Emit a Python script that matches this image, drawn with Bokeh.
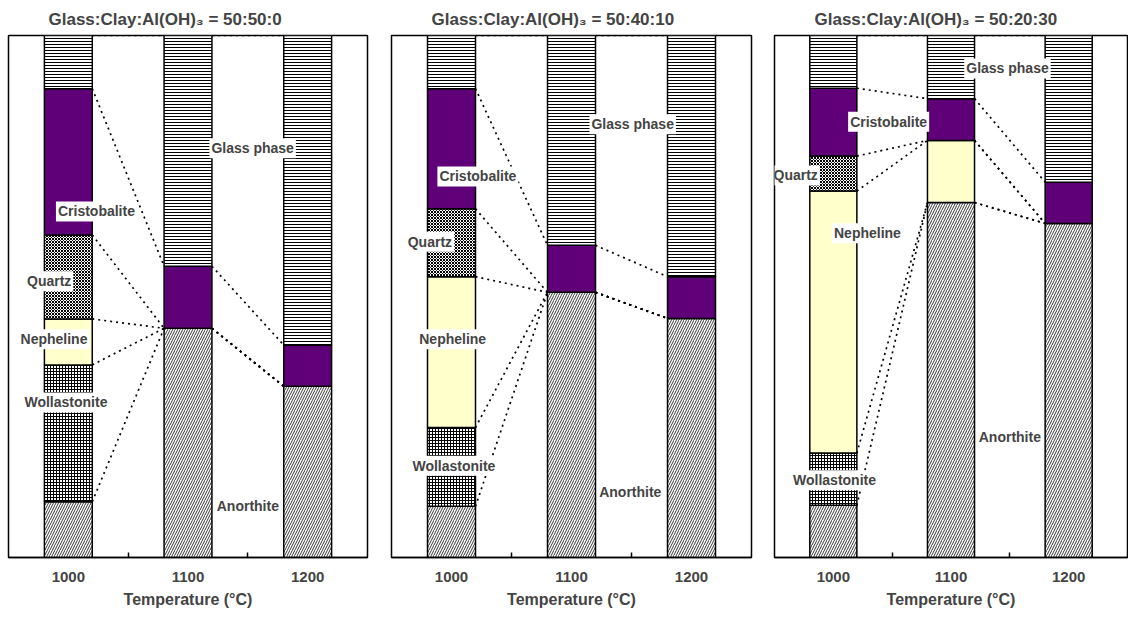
from bokeh.plotting import figure
from bokeh.models import Range1d, FixedTicker, Label
from bokeh.layouts import row
from bokeh.embed import file_html
from bokeh.resources import INLINE
import numpy as np

# ---------------- data ----------------
temps = [1000, 1100, 1200]
phases = ["Anorthite", "Wollastonite", "Nepheline", "Quartz", "Cristobalite", "Glass phase"]
titles = ["Glass:Clay:Al(OH)\u2083 = 50:50:0",
          "Glass:Clay:Al(OH)\u2083 = 50:40:10",
          "Glass:Clay:Al(OH)\u2083 = 50:20:30"]

# panel 1: 50:50:0  (vol. %, bottom to top)
p1_anorthite = [10.7, 43.9, 32.8]
p1_wollastonite = [26.2, 0.0, 0.0]
p1_nepheline = [8.8, 0.0, 0.0]
p1_quartz = [16.1, 0.0, 0.0]
p1_cristobalite = [28.0, 11.9, 7.9]
p1_glass = [10.2, 44.2, 59.3]

# panel 2: 50:40:10
p2_anorthite = [9.8, 50.8, 45.8]
p2_wollastonite = [15.1, 0.0, 0.0]
p2_nepheline = [28.9, 0.0, 0.0]
p2_quartz = [13.0, 0.0, 0.0]
p2_cristobalite = [23.0, 9.0, 8.0]
p2_glass = [10.2, 40.2, 46.2]

# panel 3: 50:20:30
p3_anorthite = [10.0, 68.0, 64.0]
p3_wollastonite = [10.0, 0.0, 0.0]
p3_nepheline = [50.2, 11.9, 0.0]
p3_quartz = [6.7, 0.0, 0.0]
p3_cristobalite = [13.0, 8.0, 7.9]
p3_glass = [10.1, 12.1, 28.1]

panels = [
    [p1_anorthite, p1_wollastonite, p1_nepheline, p1_quartz, p1_cristobalite, p1_glass],
    [p2_anorthite, p2_wollastonite, p2_nepheline, p2_quartz, p2_cristobalite, p2_glass],
    [p3_anorthite, p3_wollastonite, p3_nepheline, p3_quartz, p3_cristobalite, p3_glass],
]

# ---------------- styling / placement ----------------
FONT = "Liberation Sans"
BAR_W = 40
styles = {
    "Anorthite": dict(fill_color="white", hatch_pattern="/", hatch_scale=5, hatch_weight=0.9, hatch_color="#222222"),
    "Wollastonite": dict(fill_color="white", hatch_pattern="+", hatch_scale=3, hatch_weight=1, hatch_color="black"),
    "Nepheline": dict(fill_color="#ffffcc"),
    "Quartz": dict(fill_color="white", hatch_pattern="x", hatch_scale=3, hatch_weight=1, hatch_color="black"),
    "Cristobalite": dict(fill_color="#600078"),
    "Glass phase": dict(fill_color="white", hatch_pattern="-", hatch_scale=3, hatch_weight=1, hatch_color="black"),
}

label_pos = [
    {"Glass phase": (1154, 78.4), "Cristobalite": (1023.5, 66.3), "Quartz": (984, 52.9),
     "Nepheline": (988, 41.8), "Wollastonite": (998, 29.7), "Anorthite": (1150, 9.8)},
    {"Glass phase": (1151, 83.0), "Cristobalite": (1022, 73.0), "Quartz": (982, 60.5),
     "Nepheline": (1001, 41.8), "Wollastonite": (1002, 17.6), "Anorthite": (1149, 12.6)},
    {"Glass phase": (1148, 93.7), "Cristobalite": (1047, 83.5), "Quartz": (968, 73.2),
     "Nepheline": (1029, 62.1), "Wollastonite": (1001, 14.8), "Anorthite": (1150, 23.0)},
]

borders = [(8, 12), (12, 11), (12, 1)]
FRAME_W = [359, 360, 353]
TOP = 35
FRAME_H = 522
BOTTOM = 60

figs = []
for k in range(3):
    bl, br = borders[k]
    p = figure(width=FRAME_W[k] + bl + br, height=TOP + FRAME_H + BOTTOM,
               x_range=Range1d(950, 1250), y_range=Range1d(0, 100),
               y_axis_type=None, output_backend="svg", toolbar_location=None,
               min_border_left=bl, min_border_right=br, min_border_top=TOP, min_border_bottom=BOTTOM)
    p.background_fill_color = "white"
    p.border_fill_color = "white"
    p.outline_line_color = "black"
    p.outline_line_width = 1.5
    p.xgrid.visible = False
    p.ygrid.visible = False

    p.title.text = titles[k]
    p.title.align = "left"
    p.title.offset = 40
    p.title.text_font = FONT
    p.title.text_font_size = "17px"
    p.title.text_font_style = "bold"
    p.title.standoff = 14

    ax = p.xaxis[0]
    mids = list(np.array(temps[:-1]) + np.diff(temps) / 2)
    ax.ticker = FixedTicker(ticks=temps, minor_ticks=mids)
    ax.major_tick_in = 0
    ax.major_tick_out = 0
    ax.minor_tick_in = 5
    ax.minor_tick_out = 0
    ax.minor_tick_line_width = 1.5
    ax.axis_line_width = 1.5
    ax.major_label_text_font = FONT
    ax.major_label_text_font_style = "bold"
    ax.major_label_text_font_size = "15px"
    ax.major_label_standoff = 14
    ax.axis_label = "Temperature (\u00b0C)"
    ax.axis_label_text_font = FONT
    ax.axis_label_text_font_style = "bold"
    ax.axis_label_text_font_size = "16px"
    ax.axis_label_standoff = 6

    vals = np.array(panels[k], dtype=float)
    tops = np.cumsum(vals, axis=0)
    bottoms = tops - vals
    x = np.array(temps, dtype=float)

    # series lines
    for i, ph in enumerate(phases):
        p.segment(x0=list(x[:-1] + BAR_W / 2), y0=list(tops[i][:-1]),
                  x1=list(x[1:] - BAR_W / 2), y1=list(tops[i][1:]),
                  line_color="black", line_width=1.7, line_dash="2 4")

    # stacked bars
    for i, ph in enumerate(phases):
        m = vals[i] > 0
        p.vbar(x=list(x[m]), width=BAR_W, bottom=list(bottoms[i][m]), top=list(tops[i][m]),
               line_color="black", line_width=1.5, **styles[ph])

    for ph, (lx, ly) in label_pos[k].items():
        p.add_layout(Label(x=lx, y=ly, text=ph, text_align="center", text_baseline="middle",
                           text_font=FONT, text_font_style="bold", text_font_size="14px",
                           background_fill_color="white", padding=2))
    figs.append(p)

layout = row(*figs)
open("out.html", "w").write(file_html(layout, INLINE))
